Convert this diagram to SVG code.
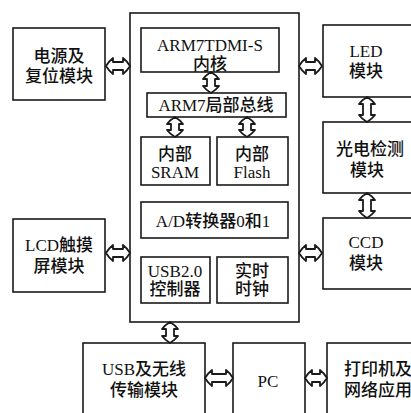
<svg xmlns="http://www.w3.org/2000/svg" width="411" height="413" viewBox="0 0 411 413">
<style>
.b{fill:#fff;stroke:#1a1a1a;stroke-width:1.6}
.a{fill:#fff;stroke:#1a1a1a;stroke-width:1.8;stroke-linejoin:round}
text{font-family:"Liberation Serif","Noto Sans CJK SC",serif;font-size:17px;fill:#111;text-anchor:middle;font-weight:500}
</style>
<rect width="411" height="413" fill="#fff"/>
<g id="main"><rect class="b" x="130" y="13" width="169" height="309"/></g>
<g id="power"><rect class="b" x="13" y="28" width="92" height="72"/><text x="59" y="62">电源及</text><text x="59" y="82">复位模块</text></g>
<g id="core"><rect class="b" x="141" y="28" width="138" height="44"/><text x="210" y="51">ARM7TDMI-S</text><text x="210" y="70">内核</text></g>
<g id="bus"><rect class="b" x="147" y="93" width="139" height="24"/><text x="216" y="111">ARM7局部总线</text></g>
<g id="sram"><rect class="b" x="141" y="137" width="69" height="48"/><text x="175" y="160">内部</text><text x="175" y="178">SRAM</text></g>
<g id="flash"><rect class="b" x="217" y="137" width="71" height="48"/><text x="252" y="160">内部</text><text x="252" y="178">Flash</text></g>
<g id="adc"><rect class="b" x="141" y="202" width="147" height="36"/><text x="213" y="227">A/D转换器0和1</text></g>
<g id="usbctl"><rect class="b" x="141" y="257" width="69" height="46"/><text x="175" y="277">USB2.0</text><text x="175" y="295">控制器</text></g>
<g id="rtc"><rect class="b" x="217" y="257" width="71" height="46"/><text x="252" y="277">实时</text><text x="252" y="295">时钟</text></g>
<g id="led"><rect class="b" x="323" y="25" width="100" height="72"/><text x="366" y="57">LED</text><text x="366" y="77">模块</text></g>
<g id="photo"><rect class="b" x="323" y="122" width="100" height="71"/><text x="370" y="155">光电检测</text><text x="367" y="176">模块</text></g>
<g id="ccd"><rect class="b" x="323" y="218" width="100" height="71"/><text x="366" y="248">CCD</text><text x="366" y="269">模块</text></g>
<g id="lcd"><rect class="b" x="13" y="219" width="92" height="73"/><text x="59" y="251">LCD触摸</text><text x="59" y="272">屏模块</text></g>
<g id="usbwl"><rect class="b" x="83" y="343" width="122" height="80"/><text x="144" y="375">USB及无线</text><text x="144" y="396">传输模块</text></g>
<g id="pc"><rect class="b" x="233" y="343" width="72" height="80"/><text x="268" y="387">PC</text></g>
<g id="printer"><rect class="b" x="327" y="343" width="100" height="80"/><text x="378" y="375">打印机及</text><text x="378" y="396">网络应用</text></g>
<g id="connectors">
<path class="a" d="M106 66 Q109 61 113 58 L113 62 L123 62 L123 58 Q127 61 130 66 Q127 71 123 74 L123 70 L113 70 L113 74 Q109 71 106 66Z"/>
<path class="a" d="M299 66 Q302 61 306 58 L306 62 L315 62 L315 58 Q319 61 322 66 Q319 71 315 74 L315 70 L306 70 L306 74 Q302 71 299 66Z"/>
<path class="a" d="M106 253 Q109 248 113 245 L113 249 L123 249 L123 245 Q127 248 130 253 Q127 258 123 261 L123 257 L113 257 L113 261 Q109 258 106 253Z"/>
<path class="a" d="M299 253 Q302 248 306 245 L306 249 L315 249 L315 245 Q319 248 322 253 Q319 258 315 261 L315 257 L306 257 L306 261 Q302 258 299 253Z"/>
<path class="a" d="M205 378 Q208 373 212 370 L212 374 L226 374 L226 370 Q230 373 233 378 Q230 383 226 386 L226 382 L212 382 L212 386 Q208 383 205 378Z"/>
<path class="a" d="M305 378 Q308 373 312 370 L312 374 L320 374 L320 370 Q324 373 327 378 Q324 383 320 386 L320 382 L312 382 L312 386 Q308 383 305 378Z"/>
<path class="a" d="M211 72 Q216 75 219 79 L215 79 L215 86 L219 86 Q216 90 211 93 Q206 90 203 86 L207 86 L207 79 L203 79 Q206 75 211 72Z"/>
<path class="a" d="M175 117 Q180 120 183 124 L179 124 L179 130 L183 130 Q180 134 175 137 Q170 134 167 130 L171 130 L171 124 L167 124 Q170 120 175 117Z"/>
<path class="a" d="M247 117 Q252 120 255 124 L251 124 L251 130 L255 130 Q252 134 247 137 Q242 134 239 130 L243 130 L243 124 L239 124 Q242 120 247 117Z"/>
<path class="a" d="M367 97 Q372 100 375 104 L371 104 L371 115 L375 115 Q372 119 367 122 Q362 119 359 115 L363 115 L363 104 L359 104 Q362 100 367 97Z"/>
<path class="a" d="M367 193 Q372 196 375 200 L371 200 L371 211 L375 211 Q372 215 367 218 Q362 215 359 211 L363 211 L363 200 L359 200 Q362 196 367 193Z"/>
<path class="a" d="M170 322 Q175 325 178 329 L174 329 L174 336 L178 336 Q175 340 170 343 Q165 340 162 336 L166 336 L166 329 L162 329 Q165 325 170 322Z"/>
</g>
</svg>
